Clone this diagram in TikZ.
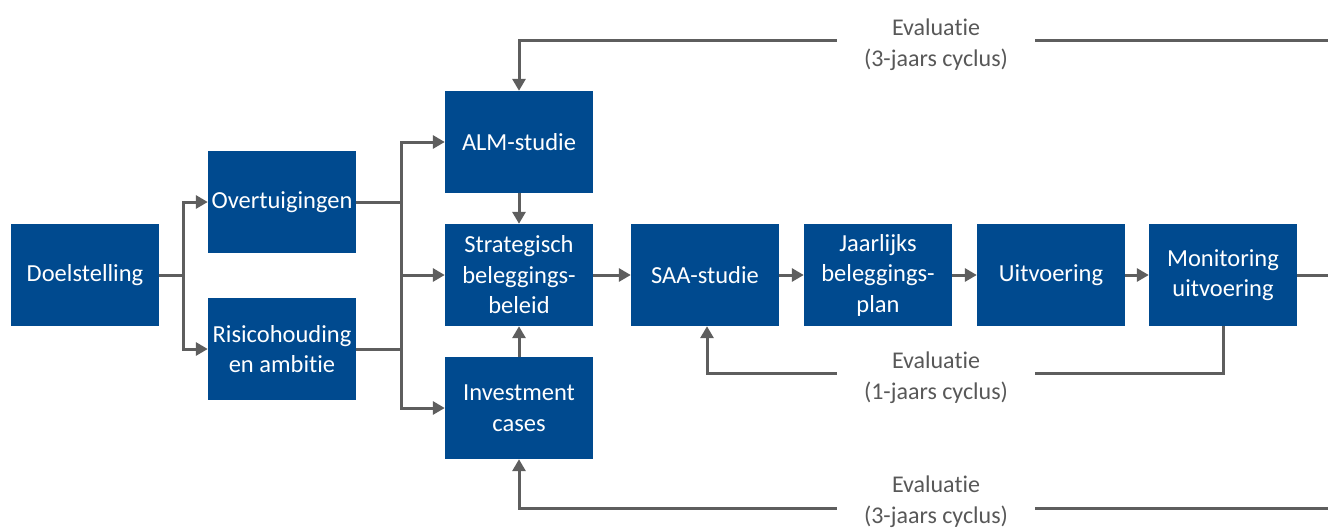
\documentclass[tikz,border=0pt]{standalone}
\usepackage{fontspec}
\setmainfont[RawFeature=-liga]{Carlito}
\usetikzlibrary{arrows.meta}
\definecolor{boxblue}{RGB}{0,74,143}
\definecolor{linegray}{RGB}{94,94,94}
\definecolor{textgray}{RGB}{88,88,88}
\begin{document}
\begin{tikzpicture}[x=1pt,y=-1pt,
  bx/.style={fill=boxblue, text=white, minimum width=148pt, minimum height=102pt, inner sep=0pt, align=center, font=\fontsize{24.5}{30.5}\selectfont},
  ev/.style={text=textgray, align=center, minimum width=198pt, inner sep=0pt, font=\fontsize{24}{31}\selectfont},
  ln/.style={draw=linegray, line width=3pt},
  arr/.style={ln, -{Triangle[length=12pt,width=13pt]}}]
\useasboundingbox (0,0) rectangle (1328,528);
\node[bx] (doel) at (85,275) {Doelstelling};
\node[bx] (over) at (282,202) {Overtuigingen};
\node[bx] (risk) at (282,349) {Risicohouding\\en ambitie};
\node[bx] (alm) at (519,142) {ALM-studie};
\node[bx] (strat) at (519,275) {Strategisch\\beleggings-\\beleid};
\node[bx] (inv) at (519,408) {Investment\\cases};
\node[bx] (saa) at (705,275) {SAA-studie};
\node[bx] (jaar) at (878,275) {Jaarlijks\\beleggings-\\plan};
\node[bx] (uitv) at (1051,275) {Uitvoering};
\node[bx] (mon) at (1223,275) {Monitoring\\uitvoering};
\node[ev] (evtop) at (936,45) {Evaluatie\\(3-jaars cyclus)};
\node[ev] (evmid) at (936,378) {Evaluatie\\(1-jaars cyclus)};
\node[ev] (evbot) at (936,502) {Evaluatie\\(3-jaars cyclus)};
\coordinate (j1) at (183,275);
\coordinate (j2) at (401,275);
\coordinate (rm) at (1328,275);
\coordinate (rt) at (1328,40);
\coordinate (ym) at (0,373);
\coordinate (rb) at (1328,508);
% left part
\draw[ln] (doel.east) -- (j1);
\draw[arr] (j1) |- (over.west);
\draw[arr] (j1) |- (risk.west);
\draw[ln] (over.east) -- (over.east -| j2);
\draw[ln] (risk.east) -- (risk.east -| j2);
\draw[arr] (j2) |- (alm.west);
\draw[arr] (j2) |- (inv.west);
\draw[arr] (j2) -- (strat.west);
\draw[arr] (alm.south) -- (strat.north);
\draw[arr] (inv.north) -- (strat.south);
% chain
\draw[arr] (strat.east) -- (saa.west);
\draw[arr] (saa.east) -- (jaar.west);
\draw[arr] (jaar.east) -- (uitv.west);
\draw[arr] (uitv.east) -- (mon.west);
\draw[ln] (mon.east) -- (rm);
% evaluation loops
\draw[ln] (rt) -- (rt -| evtop.east);
\draw[arr] (evtop.west |- rt) -| (alm.north);
\draw[ln] (mon.south) |- (evmid.east |- ym);
\draw[arr] (evmid.west |- ym) -| ([xshift=2pt]saa.south);
\draw[ln] (rb) -- (rb -| evbot.east);
\draw[arr] (evbot.west |- rb) -| (inv.south);
\end{tikzpicture}
\end{document}
